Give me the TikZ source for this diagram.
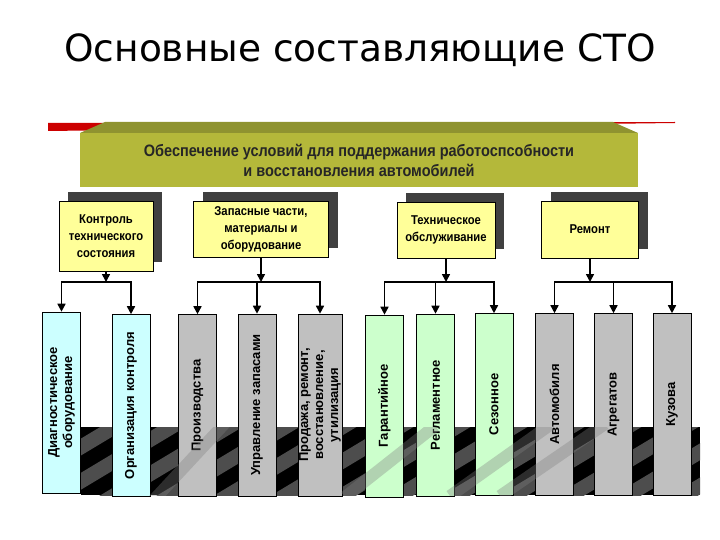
\documentclass[tikz,border=0pt]{standalone}
\usepackage{fontspec}
\setmainfont{Liberation Sans}
\newfontfamily\titlefont{DejaVu Sans}
\newfontfamily\narrowfont[FakeStretch=0.88]{Liberation Sans}
\usepackage{tikz}
\usetikzlibrary{positioning,calc,shadows,arrows.meta}
\definecolor{olivebar}{RGB}{180,184,58}
\definecolor{olivetop}{RGB}{143,147,48}
\definecolor{redbar}{RGB}{204,0,0}
\definecolor{boxyellow}{RGB}{255,255,153}
\definecolor{boxcyan}{RGB}{204,255,255}
\definecolor{boxgray}{RGB}{192,192,192}
\definecolor{boxgreen}{RGB}{204,255,204}
\definecolor{darkshadow}{RGB}{64,64,64}
\definecolor{stripegray}{RGB}{77,77,77}

\begin{document}
\begin{tikzpicture}[x=1pt, y=-1pt,
    banner/.style={rectangle, fill=olivebar, minimum width=558pt, minimum height=54pt, align=center, text=black!85, font=\narrowfont\bfseries\fontsize{16.5}{20}\selectfont},
    topic/.style={rectangle, draw=black, line width=0.6pt, fill=boxyellow, align=center, inner sep=2pt, font=\narrowfont\bfseries\fontsize{12.8}{17}\selectfont, copy shadow={shadow xshift=9pt, shadow yshift=9pt, fill=darkshadow, draw=none}},
    part/.style={rectangle, draw=black, line width=0.6pt, rotate=90, minimum width=182pt, minimum height=38pt, inner sep=1pt, align=center, font=\bfseries\fontsize{13}{15}\selectfont},
    arr/.style={line width=1.6pt, -{Triangle[length=8pt,width=8pt]}},
    bar/.style={line width=1.6pt, line cap=rect},
    beam/.style={gray, opacity=0.35, line width=12pt}
]
\useasboundingbox (0,0) rectangle (720,540);

\node[font=\titlefont\fontsize{37.5}{44}\selectfont] (title) at (360,50) {Основные составляющие СТО};

% red line and the banner
\fill[redbar] (48,123) -- (675,122) -- (675,123) -- (48,131) -- cycle;
\fill[olivetop] (80,133) -- (105,122) -- (613,122) -- (638,133) -- cycle;
\node[banner] (main) at (359,160) {Обеспечение условий для поддержания работоспсобности\\и восстановления автомобилей};

% second level
\node[topic, minimum width=94pt, minimum height=70pt] (k1) at (106,236) {Контроль\\технического\\состояния};
\node[topic, minimum width=135pt, minimum height=56pt] (k2) at (261,229) {Запасные части,\\материалы и\\оборудование};
\node[topic, minimum width=98pt, minimum height=56pt] (k3) at (446,230) {Техническое\\обслуживание};
\node[topic, minimum width=97pt, minimum height=57pt] (k4) at (590,229.5) {Ремонт};

% black band with stripes
\fill[black] (81,427) rectangle (700,495);
\begin{scope}
    \clip (81,427) rectangle (700,495);
    \foreach \s in {-2,...,11}
        \draw[stripegray, line width=14.5pt] ({18+57*\s},519) -- ++(200,-120);
\end{scope}

% third level
\node[part, fill=boxcyan, minimum width=181pt] (v1) at (61.5,402.5) {Диагностическое\\оборудование};
\node[part, fill=boxcyan] (v2) at (131,405.5) {Организация контроля};
\node[part, fill=boxgray] (v3) at (197.5,405.5) {Производства};
\node[part, fill=boxgray] (v4) at (257,405) {Управление запасами};
\node[part, fill=boxgray, minimum height=44pt] (v5) at (320,405) {Продажа, ремонт,\\восстановление,\\утилизация};
\node[part, fill=boxgreen] (v6) at (384.5,406) {Гарантийное};
\node[part, fill=boxgreen] (v7) at (435.5,405) {Регламентное};
\node[part, fill=boxgreen] (v8) at (494,404.5) {Сезонное};
\node[part, fill=boxgray] (v9) at (554.5,404.5) {Автомобиля};
\node[part, fill=boxgray] (v10) at (613.5,404.5) {Агрегатов};
\node[part, fill=boxgray] (v11) at (672,404.5) {Кузова};

% light beams over the band
\begin{scope}
    \clip (81,427) rectangle (700,495);
    \draw[beam] (150,504) -- (240,407);
    \draw[beam] (345,497) -- (435,426);
    \draw[beam] (450,496) -- (550,425);
    \draw[beam] (500,496) -- (605,424);
\end{scope}

% connectors
\coordinate (lvl) at (0,282);
\foreach \k/\a/\b in {k1/v1/v2, k2/v3/v5, k3/v6/v8, k4/v9/v11} {
    \draw[arr] (\k.south) -- (\k.south |- lvl);
    \draw[bar] (\a.east |- lvl) -- (\b.east |- lvl);
}
\foreach \v in {v1,v2,v3,v4,v5,v6,v7,v8,v9,v10,v11}
    \draw[arr] (\v.east |- lvl) -- (\v.east);
\end{tikzpicture}
\end{document}
